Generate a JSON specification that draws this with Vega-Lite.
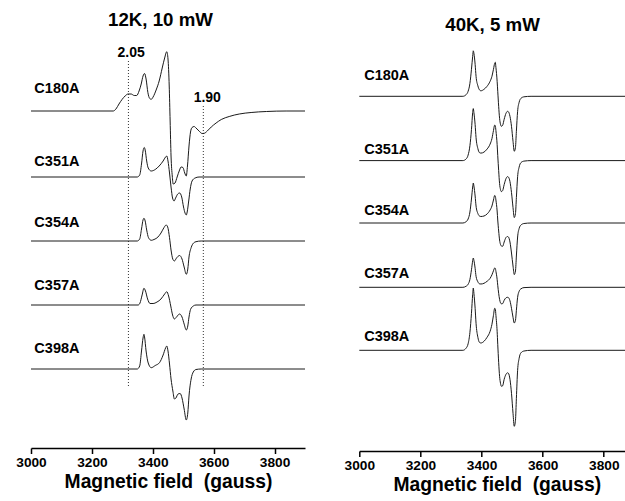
{
"$schema": "https://vega.github.io/schema/vega-lite/v6.json",
"background": "white",
"padding": {"left": 15, "top": 10, "right": 0, "bottom": 0},
"bounds": "flush",
"spacing": 54.3,
"config": {
  "view": {"stroke": null},
  "font": "Liberation Sans",
  "title": {"fontSize": 18.7, "fontWeight": "bold", "font": "Liberation Sans", "color": "black", "anchor": "middle"},
  "axis": {"grid": false, "domainColor": "black", "domainWidth": 1.5, "tickColor": "black", "tickWidth": 1.5,
    "labelFontSize": 13.7, "labelFontWeight": "bold", "labelColor": "black", "labelFont": "Liberation Sans", "labelPadding": 2,
    "labelFlush": false, "labelOverlap": false,
    "titleFontSize": 19.3, "titleFontWeight": "bold", "titleColor": "black", "titleFont": "Liberation Sans", "titlePadding": 3}
},
"datasets": {
  "left": [
    {"sample":"C180A","field":3000,"signal":337},{"sample":"C180A","field":3270,"signal":337},{"sample":"C180A","field":3279,"signal":339},{"sample":"C180A","field":3289,"signal":344},{"sample":"C180A","field":3299,"signal":348.5},{"sample":"C180A","field":3309,"signal":352},{"sample":"C180A","field":3319,"signal":354},{"sample":"C180A","field":3329,"signal":354},{"sample":"C180A","field":3339,"signal":352.5},{"sample":"C180A","field":3347,"signal":352.5},{"sample":"C180A","field":3355,"signal":357},{"sample":"C180A","field":3362,"signal":364},{"sample":"C180A","field":3368,"signal":372},{"sample":"C180A","field":3373,"signal":374.5},{"sample":"C180A","field":3378,"signal":369},{"sample":"C180A","field":3384,"signal":355.3},{"sample":"C180A","field":3390,"signal":349.5},{"sample":"C180A","field":3395,"signal":348.7},{"sample":"C180A","field":3401,"signal":351},{"sample":"C180A","field":3411,"signal":358},{"sample":"C180A","field":3421,"signal":367},{"sample":"C180A","field":3431,"signal":380},{"sample":"C180A","field":3439,"signal":390},{"sample":"C180A","field":3446,"signal":396.3},{"sample":"C180A","field":3450,"signal":389},{"sample":"C180A","field":3454,"signal":362},{"sample":"C180A","field":3457,"signal":327},{"sample":"C180A","field":3460,"signal":292},{"sample":"C180A","field":3464,"signal":272},{"sample":"C180A","field":3467,"signal":264},{"sample":"C180A","field":3473,"signal":265},{"sample":"C180A","field":3480,"signal":271},{"sample":"C180A","field":3488,"signal":278},{"sample":"C180A","field":3493,"signal":281},{"sample":"C180A","field":3499,"signal":280.5},{"sample":"C180A","field":3505,"signal":275},{"sample":"C180A","field":3510,"signal":272},{"sample":"C180A","field":3514,"signal":282},{"sample":"C180A","field":3519,"signal":302},{"sample":"C180A","field":3524,"signal":316},{"sample":"C180A","field":3529,"signal":320.5},{"sample":"C180A","field":3536,"signal":321.5},{"sample":"C180A","field":3542,"signal":320},{"sample":"C180A","field":3552,"signal":317},{"sample":"C180A","field":3562,"signal":314.5},{"sample":"C180A","field":3569,"signal":314.7},{"sample":"C180A","field":3579,"signal":317},{"sample":"C180A","field":3592,"signal":321},{"sample":"C180A","field":3608,"signal":325},{"sample":"C180A","field":3625,"signal":328.5},{"sample":"C180A","field":3651,"signal":331.5},{"sample":"C180A","field":3684,"signal":334},{"sample":"C180A","field":3723,"signal":335.5},{"sample":"C180A","field":3773,"signal":336.5},{"sample":"C180A","field":3838,"signal":337},{"sample":"C180A","field":3900,"signal":337},

    {"sample":"C351A","field":3000,"signal":271},{"sample":"C351A","field":3349,"signal":271},{"sample":"C351A","field":3357,"signal":273},{"sample":"C351A","field":3363,"signal":284},{"sample":"C351A","field":3368,"signal":297},{"sample":"C351A","field":3372,"signal":300.5},{"sample":"C351A","field":3375,"signal":298},{"sample":"C351A","field":3380,"signal":287},{"sample":"C351A","field":3385,"signal":280},{"sample":"C351A","field":3395,"signal":277},{"sample":"C351A","field":3408,"signal":278.5},{"sample":"C351A","field":3421,"signal":282},{"sample":"C351A","field":3434,"signal":287},{"sample":"C351A","field":3442,"signal":291},{"sample":"C351A","field":3446,"signal":292},{"sample":"C351A","field":3450,"signal":287},{"sample":"C351A","field":3455,"signal":275},{"sample":"C351A","field":3460,"signal":261},{"sample":"C351A","field":3465,"signal":250},{"sample":"C351A","field":3470,"signal":247},{"sample":"C351A","field":3475,"signal":250},{"sample":"C351A","field":3482,"signal":254},{"sample":"C351A","field":3488,"signal":255},{"sample":"C351A","field":3495,"signal":251},{"sample":"C351A","field":3501,"signal":241},{"sample":"C351A","field":3506,"signal":235},{"sample":"C351A","field":3510,"signal":233},{"sample":"C351A","field":3513,"signal":236},{"sample":"C351A","field":3518,"signal":247},{"sample":"C351A","field":3523,"signal":259},{"sample":"C351A","field":3529,"signal":267},{"sample":"C351A","field":3539,"signal":270},{"sample":"C351A","field":3552,"signal":271},{"sample":"C351A","field":3900,"signal":271},

    {"sample":"C354A","field":3000,"signal":207},{"sample":"C354A","field":3349,"signal":207},{"sample":"C354A","field":3357,"signal":209},{"sample":"C354A","field":3363,"signal":219},{"sample":"C354A","field":3368,"signal":228},{"sample":"C354A","field":3371,"signal":229.7},{"sample":"C354A","field":3375,"signal":227},{"sample":"C354A","field":3380,"signal":218},{"sample":"C354A","field":3386,"signal":210.3},{"sample":"C354A","field":3395,"signal":207.7},{"sample":"C354A","field":3404,"signal":208.5},{"sample":"C354A","field":3417,"signal":211},{"sample":"C354A","field":3427,"signal":215},{"sample":"C354A","field":3437,"signal":220.5},{"sample":"C354A","field":3444,"signal":223},{"sample":"C354A","field":3449,"signal":221},{"sample":"C354A","field":3455,"signal":210.3},{"sample":"C354A","field":3460,"signal":198},{"sample":"C354A","field":3466,"signal":188.7},{"sample":"C354A","field":3471,"signal":187},{"sample":"C354A","field":3478,"signal":190},{"sample":"C354A","field":3488,"signal":192.5},{"sample":"C354A","field":3496,"signal":189},{"sample":"C354A","field":3503,"signal":181},{"sample":"C354A","field":3510,"signal":173.7},{"sample":"C354A","field":3515,"signal":179},{"sample":"C354A","field":3519,"signal":191},{"sample":"C354A","field":3526,"signal":200.3},{"sample":"C354A","field":3534,"signal":205},{"sample":"C354A","field":3542,"signal":206.3},{"sample":"C354A","field":3559,"signal":207},{"sample":"C354A","field":3900,"signal":207},

    {"sample":"C357A","field":3000,"signal":143},{"sample":"C357A","field":3352,"signal":143},{"sample":"C357A","field":3358,"signal":145},{"sample":"C357A","field":3365,"signal":153},{"sample":"C357A","field":3371,"signal":159.7},{"sample":"C357A","field":3376,"signal":157},{"sample":"C357A","field":3383,"signal":149},{"sample":"C357A","field":3391,"signal":144.5},{"sample":"C357A","field":3401,"signal":144.5},{"sample":"C357A","field":3414,"signal":146},{"sample":"C357A","field":3427,"signal":149},{"sample":"C357A","field":3439,"signal":154},{"sample":"C357A","field":3446,"signal":156.3},{"sample":"C357A","field":3452,"signal":152},{"sample":"C357A","field":3459,"signal":142},{"sample":"C357A","field":3465,"signal":133},{"sample":"C357A","field":3471,"signal":129},{"sample":"C357A","field":3478,"signal":131},{"sample":"C357A","field":3488,"signal":134},{"sample":"C357A","field":3496,"signal":131},{"sample":"C357A","field":3503,"signal":124},{"sample":"C357A","field":3510,"signal":118},{"sample":"C357A","field":3515,"signal":122},{"sample":"C357A","field":3519,"signal":131},{"sample":"C357A","field":3524,"signal":138.5},{"sample":"C357A","field":3533,"signal":142},{"sample":"C357A","field":3542,"signal":143},{"sample":"C357A","field":3900,"signal":143},

    {"sample":"C398A","field":3000,"signal":79},{"sample":"C398A","field":3349,"signal":79},{"sample":"C398A","field":3357,"signal":82},{"sample":"C398A","field":3363,"signal":97},{"sample":"C398A","field":3368,"signal":110},{"sample":"C398A","field":3371,"signal":113.7},{"sample":"C398A","field":3373,"signal":111},{"sample":"C398A","field":3378,"signal":97},{"sample":"C398A","field":3385,"signal":85},{"sample":"C398A","field":3395,"signal":80.3},{"sample":"C398A","field":3408,"signal":82.5},{"sample":"C398A","field":3422,"signal":85.3},{"sample":"C398A","field":3434,"signal":93},{"sample":"C398A","field":3442,"signal":100},{"sample":"C398A","field":3446,"signal":102},{"sample":"C398A","field":3450,"signal":97},{"sample":"C398A","field":3455,"signal":84},{"sample":"C398A","field":3460,"signal":69},{"sample":"C398A","field":3466,"signal":57},{"sample":"C398A","field":3471,"signal":49},{"sample":"C398A","field":3476,"signal":50},{"sample":"C398A","field":3483,"signal":54},{"sample":"C398A","field":3490,"signal":54.5},{"sample":"C398A","field":3496,"signal":50},{"sample":"C398A","field":3503,"signal":39},{"sample":"C398A","field":3510,"signal":28},{"sample":"C398A","field":3515,"signal":35},{"sample":"C398A","field":3519,"signal":52},{"sample":"C398A","field":3526,"signal":69},{"sample":"C398A","field":3533,"signal":76},{"sample":"C398A","field":3542,"signal":78.5},{"sample":"C398A","field":3559,"signal":79},{"sample":"C398A","field":3900,"signal":79}
  ],
  "right": [
    {"sample":"C180A","field":3000,"signal":351.7},{"sample":"C180A","field":3339,"signal":351.7},{"sample":"C180A","field":3349,"signal":353.2},{"sample":"C180A","field":3356,"signal":356.7},{"sample":"C180A","field":3362,"signal":364.7},{"sample":"C180A","field":3367,"signal":378.7},{"sample":"C180A","field":3371,"signal":391.7},{"sample":"C180A","field":3373,"signal":397.2},{"sample":"C180A","field":3375,"signal":394.7},{"sample":"C180A","field":3379,"signal":383.7},{"sample":"C180A","field":3382,"signal":371.7},{"sample":"C180A","field":3388,"signal":362.2},{"sample":"C180A","field":3393,"signal":358.2},{"sample":"C180A","field":3398,"signal":357.2},{"sample":"C180A","field":3408,"signal":358.7},{"sample":"C180A","field":3418,"signal":361.7},{"sample":"C180A","field":3428,"signal":366.7},{"sample":"C180A","field":3434,"signal":371.7},{"sample":"C180A","field":3439,"signal":378.7},{"sample":"C180A","field":3443,"signal":384.7},{"sample":"C180A","field":3445,"signal":385.7},{"sample":"C180A","field":3447,"signal":380.7},{"sample":"C180A","field":3451,"signal":366.7},{"sample":"C180A","field":3453,"signal":356.7},{"sample":"C180A","field":3456,"signal":341.7},{"sample":"C180A","field":3459,"signal":329.7},{"sample":"C180A","field":3462,"signal":323.7},{"sample":"C180A","field":3465,"signal":321.7},{"sample":"C180A","field":3469,"signal":322.7},{"sample":"C180A","field":3474,"signal":328.7},{"sample":"C180A","field":3480,"signal":334.7},{"sample":"C180A","field":3485,"signal":336.7},{"sample":"C180A","field":3488,"signal":336.2},{"sample":"C180A","field":3493,"signal":331.7},{"sample":"C180A","field":3498,"signal":321.7},{"sample":"C180A","field":3503,"signal":306.7},{"sample":"C180A","field":3507,"signal":296.7},{"sample":"C180A","field":3511,"signal":300.7},{"sample":"C180A","field":3514,"signal":316.7},{"sample":"C180A","field":3518,"signal":336.7},{"sample":"C180A","field":3523,"signal":345.7},{"sample":"C180A","field":3529,"signal":349.7},{"sample":"C180A","field":3539,"signal":351.2},{"sample":"C180A","field":3562,"signal":351.7},{"sample":"C180A","field":3872,"signal":351.7},

    {"sample":"C351A","field":3000,"signal":287.4},{"sample":"C351A","field":3339,"signal":287.4},{"sample":"C351A","field":3349,"signal":288.9},{"sample":"C351A","field":3356,"signal":292.9},{"sample":"C351A","field":3362,"signal":302.4},{"sample":"C351A","field":3367,"signal":318.4},{"sample":"C351A","field":3371,"signal":335.4},{"sample":"C351A","field":3373,"signal":339.4},{"sample":"C351A","field":3375,"signal":335.4},{"sample":"C351A","field":3379,"signal":323.4},{"sample":"C351A","field":3382,"signal":310.4},{"sample":"C351A","field":3388,"signal":299.4},{"sample":"C351A","field":3393,"signal":295.4},{"sample":"C351A","field":3398,"signal":294.9},{"sample":"C351A","field":3408,"signal":295.9},{"sample":"C351A","field":3418,"signal":298.9},{"sample":"C351A","field":3428,"signal":303.9},{"sample":"C351A","field":3434,"signal":309.4},{"sample":"C351A","field":3439,"signal":317.4},{"sample":"C351A","field":3443,"signal":322.9},{"sample":"C351A","field":3445,"signal":322.4},{"sample":"C351A","field":3447,"signal":317.4},{"sample":"C351A","field":3451,"signal":303.4},{"sample":"C351A","field":3453,"signal":292.4},{"sample":"C351A","field":3456,"signal":277.4},{"sample":"C351A","field":3459,"signal":264.4},{"sample":"C351A","field":3462,"signal":258.4},{"sample":"C351A","field":3465,"signal":256.4},{"sample":"C351A","field":3469,"signal":257.4},{"sample":"C351A","field":3474,"signal":263.4},{"sample":"C351A","field":3480,"signal":269.4},{"sample":"C351A","field":3485,"signal":271.4},{"sample":"C351A","field":3488,"signal":270.9},{"sample":"C351A","field":3493,"signal":266.4},{"sample":"C351A","field":3498,"signal":255.4},{"sample":"C351A","field":3503,"signal":240.4},{"sample":"C351A","field":3507,"signal":230.4},{"sample":"C351A","field":3511,"signal":234.4},{"sample":"C351A","field":3514,"signal":250.4},{"sample":"C351A","field":3518,"signal":271.4},{"sample":"C351A","field":3523,"signal":280.9},{"sample":"C351A","field":3529,"signal":285.4},{"sample":"C351A","field":3539,"signal":286.9},{"sample":"C351A","field":3562,"signal":287.4},{"sample":"C351A","field":3872,"signal":287.4},

    {"sample":"C354A","field":3000,"signal":225},{"sample":"C354A","field":3339,"signal":225},{"sample":"C354A","field":3349,"signal":226.2},{"sample":"C354A","field":3356,"signal":229},{"sample":"C354A","field":3362,"signal":236},{"sample":"C354A","field":3367,"signal":249},{"sample":"C354A","field":3371,"signal":261},{"sample":"C354A","field":3373,"signal":265},{"sample":"C354A","field":3375,"signal":262},{"sample":"C354A","field":3379,"signal":252},{"sample":"C354A","field":3382,"signal":242},{"sample":"C354A","field":3388,"signal":234.5},{"sample":"C354A","field":3393,"signal":232},{"sample":"C354A","field":3398,"signal":231.5},{"sample":"C354A","field":3408,"signal":232},{"sample":"C354A","field":3418,"signal":234},{"sample":"C354A","field":3428,"signal":238},{"sample":"C354A","field":3434,"signal":242},{"sample":"C354A","field":3439,"signal":248},{"sample":"C354A","field":3443,"signal":252.5},{"sample":"C354A","field":3445,"signal":252},{"sample":"C354A","field":3447,"signal":248},{"sample":"C354A","field":3451,"signal":237},{"sample":"C354A","field":3453,"signal":228},{"sample":"C354A","field":3456,"signal":217},{"sample":"C354A","field":3459,"signal":208},{"sample":"C354A","field":3462,"signal":203.5},{"sample":"C354A","field":3465,"signal":202},{"sample":"C354A","field":3469,"signal":201.7},{"sample":"C354A","field":3474,"signal":206},{"sample":"C354A","field":3480,"signal":210.5},{"sample":"C354A","field":3485,"signal":211.5},{"sample":"C354A","field":3488,"signal":211},{"sample":"C354A","field":3493,"signal":206},{"sample":"C354A","field":3498,"signal":195},{"sample":"C354A","field":3503,"signal":182},{"sample":"C354A","field":3507,"signal":173.4},{"sample":"C354A","field":3511,"signal":177},{"sample":"C354A","field":3514,"signal":192},{"sample":"C354A","field":3518,"signal":211},{"sample":"C354A","field":3523,"signal":219.5},{"sample":"C354A","field":3529,"signal":223},{"sample":"C354A","field":3539,"signal":224.5},{"sample":"C354A","field":3562,"signal":225},{"sample":"C354A","field":3872,"signal":225},

    {"sample":"C357A","field":3000,"signal":160.7},{"sample":"C357A","field":3339,"signal":160.7},{"sample":"C357A","field":3349,"signal":161.7},{"sample":"C357A","field":3356,"signal":163.7},{"sample":"C357A","field":3362,"signal":168.7},{"sample":"C357A","field":3367,"signal":178.2},{"sample":"C357A","field":3371,"signal":187.2},{"sample":"C357A","field":3373,"signal":190},{"sample":"C357A","field":3375,"signal":187.7},{"sample":"C357A","field":3379,"signal":179.7},{"sample":"C357A","field":3382,"signal":171.7},{"sample":"C357A","field":3388,"signal":166.2},{"sample":"C357A","field":3393,"signal":164.2},{"sample":"C357A","field":3398,"signal":164},{"sample":"C357A","field":3408,"signal":164.7},{"sample":"C357A","field":3418,"signal":166.7},{"sample":"C357A","field":3428,"signal":169.7},{"sample":"C357A","field":3434,"signal":173.2},{"sample":"C357A","field":3439,"signal":177.2},{"sample":"C357A","field":3443,"signal":180},{"sample":"C357A","field":3445,"signal":179.7},{"sample":"C357A","field":3447,"signal":176.7},{"sample":"C357A","field":3451,"signal":168.7},{"sample":"C357A","field":3453,"signal":162.7},{"sample":"C357A","field":3456,"signal":154.7},{"sample":"C357A","field":3459,"signal":148.7},{"sample":"C357A","field":3462,"signal":145.2},{"sample":"C357A","field":3465,"signal":144.2},{"sample":"C357A","field":3469,"signal":144.4},{"sample":"C357A","field":3474,"signal":147.7},{"sample":"C357A","field":3480,"signal":150.2},{"sample":"C357A","field":3485,"signal":150.7},{"sample":"C357A","field":3488,"signal":150.4},{"sample":"C357A","field":3493,"signal":147.2},{"sample":"C357A","field":3498,"signal":139.7},{"sample":"C357A","field":3503,"signal":130.7},{"sample":"C357A","field":3507,"signal":125},{"sample":"C357A","field":3511,"signal":127.7},{"sample":"C357A","field":3514,"signal":137.7},{"sample":"C357A","field":3518,"signal":150.7},{"sample":"C357A","field":3523,"signal":156.7},{"sample":"C357A","field":3529,"signal":159.2},{"sample":"C357A","field":3539,"signal":160.4},{"sample":"C357A","field":3562,"signal":160.7},{"sample":"C357A","field":3872,"signal":160.7},

    {"sample":"C398A","field":3000,"signal":97.7},{"sample":"C398A","field":3339,"signal":97.7},{"sample":"C398A","field":3349,"signal":99.7},{"sample":"C398A","field":3356,"signal":104.2},{"sample":"C398A","field":3362,"signal":115.7},{"sample":"C398A","field":3367,"signal":134.7},{"sample":"C398A","field":3371,"signal":153.7},{"sample":"C398A","field":3373,"signal":160},{"sample":"C398A","field":3375,"signal":154.7},{"sample":"C398A","field":3379,"signal":139.7},{"sample":"C398A","field":3382,"signal":124.7},{"sample":"C398A","field":3388,"signal":110.7},{"sample":"C398A","field":3393,"signal":105.7},{"sample":"C398A","field":3398,"signal":105},{"sample":"C398A","field":3408,"signal":106.7},{"sample":"C398A","field":3418,"signal":110.7},{"sample":"C398A","field":3428,"signal":116.7},{"sample":"C398A","field":3434,"signal":123.7},{"sample":"C398A","field":3439,"signal":132.7},{"sample":"C398A","field":3443,"signal":139.7},{"sample":"C398A","field":3445,"signal":139.2},{"sample":"C398A","field":3447,"signal":132.7},{"sample":"C398A","field":3451,"signal":116.7},{"sample":"C398A","field":3453,"signal":103.7},{"sample":"C398A","field":3456,"signal":85.7},{"sample":"C398A","field":3459,"signal":71.7},{"sample":"C398A","field":3462,"signal":64.7},{"sample":"C398A","field":3465,"signal":61.7},{"sample":"C398A","field":3469,"signal":62.2},{"sample":"C398A","field":3474,"signal":68.7},{"sample":"C398A","field":3480,"signal":73.7},{"sample":"C398A","field":3485,"signal":75.2},{"sample":"C398A","field":3488,"signal":74.7},{"sample":"C398A","field":3493,"signal":68.7},{"sample":"C398A","field":3498,"signal":54.7},{"sample":"C398A","field":3503,"signal":34.7},{"sample":"C398A","field":3507,"signal":21.7},{"sample":"C398A","field":3511,"signal":27.7},{"sample":"C398A","field":3514,"signal":49.7},{"sample":"C398A","field":3518,"signal":77.7},{"sample":"C398A","field":3523,"signal":89.7},{"sample":"C398A","field":3529,"signal":95.2},{"sample":"C398A","field":3539,"signal":97},{"sample":"C398A","field":3562,"signal":97.7},{"sample":"C398A","field":3872,"signal":97.7}
  ],
  "leftLabels": [
    {"sample":"C180A","field":3011,"signal":358.7},{"sample":"C351A","field":3011,"signal":286.3},{"sample":"C354A","field":3011,"signal":225.3},{"sample":"C357A","field":3011,"signal":162},{"sample":"C398A","field":3011,"signal":98.7}
  ],
  "rightLabels": [
    {"sample":"C180A","field":3016,"signal":371.7},{"sample":"C351A","field":3016,"signal":298.4},{"sample":"C354A","field":3016,"signal":236.7},{"sample":"C357A","field":3016,"signal":174},{"sample":"C398A","field":3016,"signal":110.7}
  ],
  "gMarkers": [
    {"g":"2.05","field":3320,"top":389,"bottom":62,"labelField":3329,"labelSignal":395.3},
    {"g":"1.90","field":3566,"top":342,"bottom":62,"labelField":3579,"labelSignal":350.3}
  ]
},
"hconcat": [
  {
    "title": {"text": "12K, 10 mW", "dx": -7.5, "offset": 16},
    "width": 274, "height": 400,
    "layer": [
      {"data": {"name": "gMarkers"},
       "mark": {"type": "rule", "strokeDash": [1, 2], "color": "#333", "strokeWidth": 1},
       "encoding": {
         "x": {"field": "field", "type": "quantitative", "scale": {"domain": [3000, 3900], "nice": false, "zero": false},
           "axis": {"values": [3000,3100,3200,3300,3400,3500,3600,3700,3800,3900], "format": "d",
             "labelExpr": "datum.value % 200 === 0 ? datum.label : ''",
             "tickSize": {"condition": {"test": "datum.value % 200 === 0", "value": 5.5}, "value": 3.5},
             "title": "Magnetic field \u00a0(gauss)"}},
         "y": {"field": "bottom", "type": "quantitative", "scale": {"domain": [0, 400], "nice": false, "zero": false}, "axis": null},
         "y2": {"field": "top"}
       }},
      {"data": {"name": "gMarkers"},
       "mark": {"type": "text", "fontSize": 14, "fontWeight": "bold", "color": "black", "baseline": "middle", "align": "center"},
       "encoding": {
         "x": {"field": "labelField", "type": "quantitative"},
         "y": {"field": "labelSignal", "type": "quantitative"},
         "text": {"field": "g"}
       }},
      {"data": {"name": "left"},
       "mark": {"type": "line", "interpolate": "monotone", "color": "#1a1a1a", "strokeWidth": 1},
       "encoding": {
         "x": {"field": "field", "type": "quantitative"},
         "y": {"field": "signal", "type": "quantitative"},
         "detail": {"field": "sample"}
       }},
      {"data": {"name": "leftLabels"},
       "mark": {"type": "text", "fontSize": 14.5, "fontWeight": "bold", "color": "black", "align": "left", "baseline": "middle"},
       "encoding": {
         "x": {"field": "field", "type": "quantitative"},
         "y": {"field": "signal", "type": "quantitative"},
         "text": {"field": "sample"}
       }}
    ]
  },
  {
    "title": {"text": "40K, 5 mW", "offset": 13},
    "width": 266.5, "height": 403,
    "layer": [
      {"data": {"name": "right"},
       "mark": {"type": "line", "interpolate": "monotone", "color": "#1a1a1a", "strokeWidth": 1},
       "encoding": {
         "x": {"field": "field", "type": "quantitative", "scale": {"domain": [3000, 3872], "nice": false, "zero": false},
           "axis": {"values": [3000,3100,3200,3300,3400,3500,3600,3700,3800], "format": "d",
             "labelExpr": "datum.value % 200 === 0 ? datum.label : ''",
             "tickSize": {"condition": {"test": "datum.value % 200 === 0", "value": 5.5}, "value": 3.5},
             "title": "Magnetic field \u00a0(gauss)", "titleX": 137.5, "titleAlign": "center"}},
         "y": {"field": "signal", "type": "quantitative", "scale": {"domain": [-3, 400], "nice": false, "zero": false}, "axis": null},
         "detail": {"field": "sample"}
       }},
      {"data": {"name": "rightLabels"},
       "mark": {"type": "text", "fontSize": 14.5, "fontWeight": "bold", "color": "black", "align": "left", "baseline": "middle"},
       "encoding": {
         "x": {"field": "field", "type": "quantitative"},
         "y": {"field": "signal", "type": "quantitative"},
         "text": {"field": "sample"}
       }}
    ]
  }
]
}
